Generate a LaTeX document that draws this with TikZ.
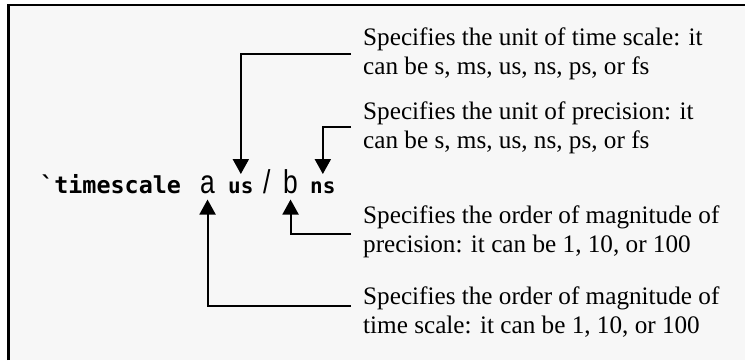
\documentclass[tikz,border=0pt]{standalone}
\usepackage{fontspec}
\setmainfont{Liberation Serif}
\newfontfamily\codefont{DejaVu Sans Mono}
\newfontfamily\varfont[FakeStretch=0.8]{Liberation Sans}
\usetikzlibrary{arrows.meta}
\definecolor{bgpaper}{HTML}{F7F7F7}
\begin{document}
\begin{tikzpicture}[x=1pt,y=-1pt,
  note/.style={inner sep=0pt, align=left, font=\fontsize{25.2}{29}\selectfont},
  code/.style={inner sep=0pt, font=\fontsize{23.4}{26}\codefont\bfseries},
  codesmall/.style={inner sep=0pt, font=\fontsize{21}{24}\codefont\bfseries},
  var/.style={inner sep=0pt, font=\fontsize{33}{36}\varfont},
  conn/.style={line width=2pt, -{Triangle[width=16pt,length=15pt]}}]
\useasboundingbox (0,0) rectangle (745,360);
\fill[bgpaper] (8.7,5) rectangle (745,360);
\draw[line width=2.6pt] (8.7,360) -- (8.7,5) -- (745,5);

% code line
\node[code, anchor=base west] (ts) at (40,193) {`timescale};
\node[var, anchor=base west] (va) at (200,193) {a};
\node[codesmall, anchor=base west] (us) at (228,193) {us};
\node[var, anchor=base west] (sl) at (263,193) {/};
\node[var, anchor=base west] (vb) at (283,193) {b};
\node[codesmall, anchor=base west] (ns) at (310,193) {ns};

% notes (base anchor = baseline of the last line)
\node[note, anchor=base west] (n1) at (363,74) {Specifies the unit of time scale: it\\can be s, ms, us, ns, ps, or fs};
\node[note, anchor=base west] (n2) at (363,148) {Specifies the unit of precision: it\\can be s, ms, us, ns, ps, or fs};
\node[note, anchor=base west] (n3) at (363,252) {Specifies the order of magnitude of\\precision: it can be 1, 10, or 100};
\node[note, anchor=base west] (n4) at (363,333) {Specifies the order of magnitude of\\time scale: it can be 1, 10, or 100};

% connector start points
\coordinate (c1) at (351,54);
\coordinate (c2) at (351,127);
\coordinate (c3) at (351,234);
\coordinate (c4) at (351,306);

\draw[conn] (c1) -| ([yshift=7pt]us.north);
\draw[conn] (c2) -| ([yshift=7pt]ns.north);
\draw[conn] (c3) -| ([yshift=-6pt]vb.south);
\draw[conn] (c4) -| ([yshift=-6pt]va.south);
\end{tikzpicture}
\end{document}
